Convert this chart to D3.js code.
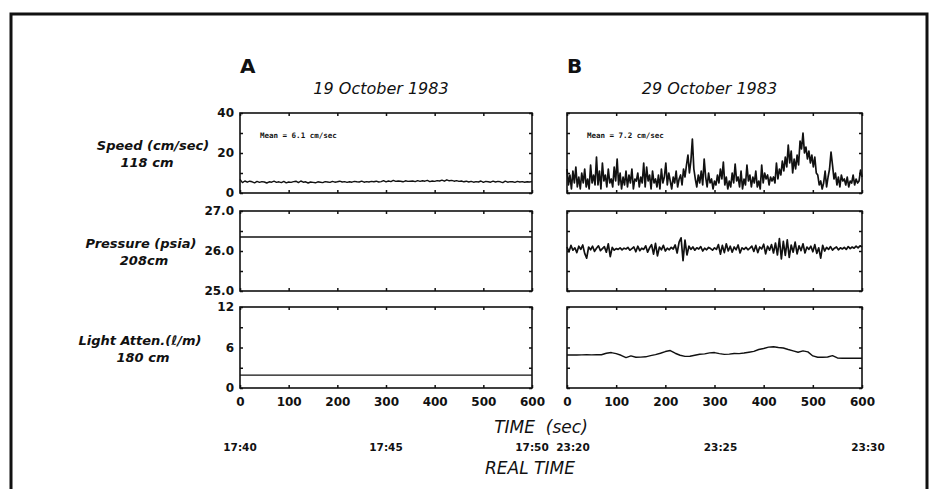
<!DOCTYPE html>
<html>
<head>
<meta charset="utf-8">
<script src="https://cdn.jsdelivr.net/npm/d3@7"></script>
<style>
  body { margin: 0; background: #fff; }
  text { fill: #111; }
</style>
</head>
<body>
<script>
// Time axis ticks (sec) and real-time labels
const timeTicks = [0, 100, 200, 300, 400, 500, 600];
const realTimeA = ["17:40", "17:45", "17:50"];
const realTimeB = ["23:20", "23:25", "23:30"];
const realTimeSec = [0, 300, 600];

// Speed (cm/sec), panel A every 5 s
const speedStepA = 5;
const speedA = [
  6.8,5.2,6.0,5.4,5.9,5.6,5.1,5.8,5.3,5.7,
  5.5,5.0,5.6,5.4,5.9,5.3,5.6,5.2,5.8,5.1,
  5.5,5.3,5.7,5.9,5.2,6.0,5.4,5.6,5.0,5.5,
  5.3,5.1,5.6,5.4,5.2,5.7,5.5,5.3,5.8,5.4,
  5.6,5.9,5.5,5.7,5.3,5.6,5.4,5.8,5.6,5.5,
  5.9,5.4,5.7,5.5,5.8,5.6,5.9,5.5,5.7,6.2,
  5.6,6.0,5.7,6.3,5.8,6.0,5.9,5.6,6.1,5.8,
  5.9,6.0,5.7,6.2,5.8,6.1,5.9,6.3,5.7,6.0,
  5.8,6.2,6.0,6.4,5.9,6.6,6.1,6.3,5.9,6.2,
  5.8,6.0,5.6,5.9,5.5,5.8,5.4,5.7,5.5,6.0,
  5.3,5.8,5.6,5.4,5.9,5.5,5.8,5.6,5.2,5.9,
  5.4,5.7,5.6,5.3,5.8,5.5,5.7,5.4,5.6,5.5,
  5.7
];

// Speed (cm/sec), panel B every 3 s
const speedStepB = 3;
const speedB = [
  12,4,9,2,11,5,13,3,8,2,
  10,5,12,3,7,2,14,5,9,4,
  18,4,11,2,15,6,9,3,12,5,
  7,3,13,6,17,4,10,2,8,4,
  11,3,9,5,12,2,7,6,10,3,
  8,5,15,3,13,6,9,2,11,5,
  7,3,9,2,12,5,8,15,4,10,
  6,2,8,5,11,3,7,9,4,12,
  8,14,19,10,16,27,12,7,3,9,
  5,11,4,17,8,3,10,5,7,2,
  6,4,9,5,12,7,15.5,4,8,2,
  6,3,10,5,14.5,6,8,3,11,2,
  7,4,14,6,9,3,8,5,11,3,
  6,2,14,5,10,7,9,4,8,6,
  8,5,15,7,12,9,16,11,18,13,
  24,15,21,10,17,12,19,14,26,22,
  30,20,23,17,21,15,19,13,18,10,
  9,4,6,2,5,11,3,8,12,20.5,
  14,7,10,4,8,3,9,6,7,4,
  8,3,6,5,9,4,7,5,6,11.5,
  8
];

// Pressure (psia)
const pressureStepA = 100;
const pressureA = [26.35, 26.35, 26.35, 26.35, 26.35, 26.35, 26.35];
const pressureStepB = 4;
const pressureB = [
  26.10,25.98,26.14,26.02,26.08,25.96,26.12,26.04,26.15,25.94,
  25.82,26.10,26.03,26.12,25.99,26.07,26.13,26.01,26.06,26.11,
  25.97,26.18,25.86,26.09,26.02,26.06,26.04,26.08,26.03,26.07,
  26.05,26.09,26.02,26.06,26.10,25.98,26.12,26.01,26.07,26.04,
  26.13,25.97,26.08,26.16,25.92,26.19,25.88,26.10,26.03,26.14,
  26.00,26.07,26.03,26.09,26.05,26.15,25.95,26.22,26.33,25.76,
  26.27,25.90,26.12,26.04,26.10,26.02,26.08,26.05,26.11,26.00,
  26.07,26.03,26.09,26.06,26.02,26.08,26.04,26.16,25.92,26.14,
  25.96,26.18,26.00,26.12,25.97,26.10,26.03,26.15,25.95,26.08,
  26.04,26.09,26.03,26.07,26.12,25.99,26.14,25.96,26.10,26.05,
  26.17,25.93,26.12,26.02,26.16,25.95,26.20,25.90,26.31,25.80,
  26.24,25.89,26.28,25.84,26.15,25.97,26.22,25.93,26.13,26.01,
  26.18,25.95,26.10,26.04,26.12,25.98,26.16,25.94,26.08,25.82,
  26.14,26.00,26.09,26.04,26.11,26.02,26.07,26.10,26.03,26.08,
  26.05,26.09,26.04,26.11,26.06,26.10,26.07,26.12,26.08,26.13,
  26.10
];

// Light attenuation (1/m)
const lightStepA = 100;
const lightA = [1.9, 1.9, 1.9, 1.9, 1.9, 1.9, 1.9];
const lightStepB = 10;
const lightB = [
  4.9,4.9,4.88,4.9,4.92,4.9,4.95,4.93,5.15,5.25,
  5.1,4.85,4.5,4.75,4.55,4.58,4.62,4.8,4.95,5.15,
  5.4,5.55,5.15,4.85,4.68,4.7,4.85,5.0,5.05,5.2,
  5.25,5.1,4.98,5.02,5.12,5.1,5.18,5.3,5.42,5.7,
  5.85,6.05,6.12,6.0,5.92,5.7,5.5,5.3,5.5,5.35,
  4.75,4.55,4.55,4.6,4.8,4.45,4.4,4.4,4.4,4.4,
  4.4
];

const rowLabels = [["Speed (cm/sec)", "118 cm"], ["Pressure (psia)", "208cm"], ["Light Atten.(\u2113/m)", "180 cm"]];
const rowDomains = [[0, 40], [25, 27], [0, 12]];
const rowTicks = [[0, 20, 40], [25, 26, 27], [0, 6, 12]];
const rowTickFormats = ["d", ".1f", "d"];
const rowMinorTicks = [[0, 10, 20, 30, 40], [25, 25.5, 26, 26.5, 27], [0, 3, 6, 9, 12]];
const means = ["Mean = 6.1 cm/sec", "Mean = 7.2 cm/sec"];
const panelNames = ["A", "B"];
const dates = ["19 October 1983", "29 October 1983"];

const width = 937, height = 489;
const svg = d3.select("body").append("svg")
  .attr("width", width).attr("height", height);

// outer frame (runs off the bottom of the picture)
svg.append("path")
  .attr("d", "M11,520 V14 H927 V520")
  .attr("fill", "none").attr("stroke", "#111").attr("stroke-width", 3);

const xScales = [
  d3.scaleLinear().domain([0, 600]).range([240, 532]),
  d3.scaleLinear().domain([0, 600]).range([567, 862])
];
const rowRanges = [[193, 113], [291, 211], [388, 307]];
const yScales = rowDomains.map((d, i) => d3.scaleLinear().domain(d).range(rowRanges[i]));

const series = [
  [{ v: speedA, step: speedStepA }, { v: speedB, step: speedStepB }],
  [{ v: pressureA, step: pressureStepA }, { v: pressureB, step: pressureStepB }],
  [{ v: lightA, step: lightStepA }, { v: lightB, step: lightStepB }]
];
const lineWidths = [[1.4, 1.7], [1.5, 1.7], [1.2, 1.4]];

const labelFont = "'DejaVu Sans', sans-serif";
// label centre x for each row: [first line, second line]
const labelCenters = [[153, 147], [141, 144], [140, 143]];

xScales.forEach((x, p) => {
  // panel letter and date
  svg.append("text")
    .attr("x", x.range()[0]).attr("y", 73)
    .style("font-family", labelFont).style("font-weight", "bold").style("font-size", "20px")
    .text(panelNames[p]);
  svg.append("text")
    .attr("x", (x.range()[0] + x.range()[1]) / 2 - 5).attr("y", 94)
    .attr("text-anchor", "middle")
    .style("font-family", labelFont).style("font-style", "italic").style("font-size", "16px")
    .text(dates[p]);

  yScales.forEach((y, r) => {
    const g = svg.append("g");
    const [x0, x1] = x.range();
    const [yb, yt] = y.range();

    // trace
    const line = d3.line()
      .x((d, i) => x(i * series[r][p].step))
      .y((d) => y(d));
    g.append("path")
      .datum(series[r][p].v)
      .attr("d", line)
      .attr("fill", "none").attr("stroke", "#111")
      .attr("stroke-width", lineWidths[r][p])
      .attr("stroke-linejoin", "round");

    // bottom / top ticks
    g.append("g")
      .attr("transform", "translate(0," + yb + ")")
      .call(d3.axisBottom(x).tickValues(timeTicks).tickSize(-3).tickSizeOuter(0).tickPadding(9)
        .tickFormat(r === 2 ? d3.format("d") : ""));
    g.append("g")
      .attr("transform", "translate(0," + yt + ")")
      .call(d3.axisTop(x).tickValues(timeTicks).tickSize(-3).tickSizeOuter(0).tickFormat(""));

    // left / right ticks
    g.append("g")
      .attr("transform", "translate(" + x0 + ",0)")
      .call(d3.axisLeft(y).tickValues(rowMinorTicks[r]).tickSize(-3).tickSizeOuter(0).tickPadding(6)
        .tickFormat(p === 0 ? (d) => rowTicks[r].includes(d) ? d3.format(rowTickFormats[r])(d) : "" : ""));
    g.append("g")
      .attr("transform", "translate(" + x1 + ",0)")
      .call(d3.axisRight(y).tickValues(rowMinorTicks[r]).tickSize(-3).tickSizeOuter(0).tickFormat(""));

    g.selectAll(".domain").remove();
    g.selectAll(".tick line").attr("stroke", "#111").attr("stroke-width", 1.5);
    g.selectAll(".tick text")
      .style("font-family", labelFont).style("font-weight", "bold").style("font-size", "12px")
      .style("fill", "#111");

    // panel frame
    g.append("rect")
      .attr("x", x0).attr("y", yt)
      .attr("width", x1 - x0).attr("height", yb - yt)
      .attr("fill", "none").attr("stroke", "#111").attr("stroke-width", 1.6);

    if (r === 0) {
      g.append("text")
        .attr("x", x0 + 20).attr("y", yt + 25)
        .style("font-family", "'DejaVu Sans Mono', monospace").style("font-weight", "bold")
        .style("font-size", "7.5px")
        .text(means[p]);
    }
  });
});

// row labels
rowLabels.forEach((lab, r) => {
  const yc = (rowRanges[r][0] + rowRanges[r][1]) / 2;
  svg.append("text")
    .attr("x", labelCenters[r][0]).attr("y", yc - 3)
    .attr("text-anchor", "middle")
    .style("font-family", labelFont).style("font-style", "italic").style("font-weight", "bold")
    .style("font-size", "13px")
    .text(lab[0]);
  svg.append("text")
    .attr("x", labelCenters[r][1]).attr("y", yc + 14)
    .attr("text-anchor", "middle")
    .style("font-family", labelFont).style("font-style", "italic").style("font-weight", "bold")
    .style("font-size", "13px")
    .text(lab[1]);
});

// axis titles
svg.append("text")
  .attr("x", 541).attr("y", 433)
  .attr("text-anchor", "middle")
  .style("font-family", labelFont).style("font-style", "italic").style("font-size", "17px")
  .attr("xml:space", "preserve")
  .text("TIME  (sec)");
svg.append("text")
  .attr("x", 530).attr("y", 474)
  .attr("text-anchor", "middle")
  .style("font-family", labelFont).style("font-style", "italic").style("font-size", "17px")
  .text("REAL TIME");

// real time labels
[realTimeA, realTimeB].forEach((labels, p) => {
  svg.selectAll(null)
    .data(labels)
    .enter()
    .append("text")
    .attr("x", (d, i) => xScales[p](realTimeSec[i]) + (p === 1 ? 6 : 0))
    .attr("y", 451)
    .attr("text-anchor", "middle")
    .style("font-family", labelFont).style("font-weight", "bold").style("font-size", "10.5px")
    .text((d) => d);
});
</script>
</body>
</html>
